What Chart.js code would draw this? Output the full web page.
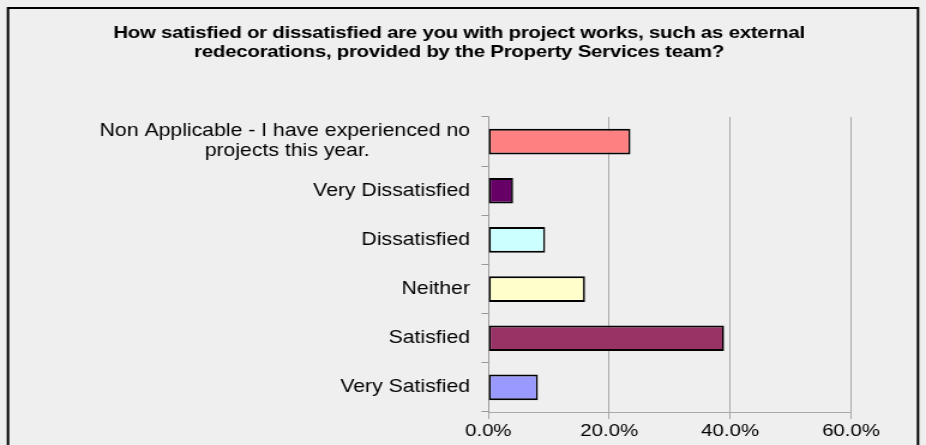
<!DOCTYPE html>
<html><head><meta charset="utf-8">
<style>html,body{margin:0;padding:0;background:#efefef;overflow:hidden;}canvas{display:block;}</style>
<script src="https://cdn.jsdelivr.net/npm/chart.js@4.4.1/dist/chart.umd.min.js"></script>
</head><body>
<canvas id="c" width="772" height="445" style="width:926px;height:445px"></canvas>
<script>
const titleLines = ['How satisfied or dissatisfied are you with project works, such as external',
                    'redecorations, provided by the Property Services team?'];
const categories = [['Non Applicable - I have experienced no', 'projects this year.'],
                    'Very Dissatisfied', 'Dissatisfied', 'Neither', 'Satisfied', 'Very Satisfied'];
const values = [23.5, 4.1, 9.4, 16.0, 39.0, 8.2];
const barColors = ['#FF8080', '#660066', '#CCFFFF', '#FFFFCC', '#993366', '#9999FF'];
const xTicks = [0, 20, 40, 60];

// the reference is stretched horizontally by ~1.2: draw at 772 px wide, shown at 926 px
const SX = 926 / 772;
const FONT = '"Liberation Sans", Arial, sans-serif';
const LABEL_SIZE = 17.7;
const TITLE_SPACING = '-0.2px';

// centre the lines of a multi-line category label by padding shorter lines
const mctx = document.createElement('canvas').getContext('2d');
mctx.font = LABEL_SIZE + 'px ' + FONT;
function centreLines(lbl) {
  if (!Array.isArray(lbl)) return lbl;
  const ws = lbl.map(s => mctx.measureText(s).width);
  const maxW = Math.max(...ws);
  const sp = mctx.measureText(' ').width;
  return lbl.map((s, i) => s + ' '.repeat(Math.round((maxW - ws[i]) / 2 / sp)));
}

const framePlugin = {
  id: 'frame',
  beforeDraw(chart) {
    const ctx = chart.ctx;
    ctx.save();
    ctx.fillStyle = '#efefef';
    ctx.fillRect(0, 0, chart.width, chart.height);
    ctx.strokeStyle = '#000';
    ctx.lineWidth = 2;
    ctx.strokeRect(8 / SX, 8, 910 / SX, 500);
    ctx.restore();
  }
};

const chart = new Chart(document.getElementById('c'), {
  type: 'bar',
  data: {
    labels: categories,
    datasets: [{
      data: values,
      backgroundColor: barColors,
      borderColor: '#000',
      borderWidth: { top: 2, bottom: 2, left: 2 / SX, right: 2 / SX },
      borderSkipped: false,
      categoryPercentage: 1,
      barPercentage: 0.523
    }]
  },
  options: {
    indexAxis: 'y',
    responsive: false,
    animation: false,
    events: [],
    layout: { padding: { left: 55.9, right: 62.5, top: 0, bottom: 0 } },
    plugins: {
      legend: { display: false },
      tooltip: { enabled: false },
      title: {
        display: true,
        text: titleLines,
        color: '#000',
        font: { family: FONT, size: 17, weight: 'bold', lineHeight: 1.135 },
        padding: { top: 23.5, bottom: 54.9 }
      }
    },
    scales: {
      x: {
        min: 0, max: 60,
        afterBuildTicks(s) { s.ticks = xTicks.map(v => ({ value: v })); },
        afterFit(s) { s.height = 33; },
        grid: { color: '#999', lineWidth: 1 / SX, drawOnChartArea: true, drawTicks: true, tickLength: 7, tickColor: '#999' },
        border: { display: true, color: '#999', width: 1 / SX },
        ticks: {
          color: '#000', padding: 3, maxRotation: 0,
          font: { family: FONT, size: 17, lineHeight: 1.15 },
          callback: v => Number(v).toFixed(1) + '%'
        }
      },
      y: {
        afterFit(s) { s.width = 351.2; },
        grid: { color: '#999', lineWidth: 1, drawOnChartArea: false, drawTicks: true, tickLength: 5.8, tickColor: '#999' },
        border: { display: true, color: '#999', width: 1 / SX },
        ticks: {
          color: '#000', padding: 9.5,
          font: { family: FONT, size: LABEL_SIZE, lineHeight: 1.13 },
          callback(v, i) { return centreLines(categories[i]); }
        }
      }
    }
  },
  plugins: [framePlugin]
});

const tb = chart.titleBlock;
const origDraw = tb.draw.bind(tb);
tb.draw = function () {
  const ctx = chart.ctx;
  const prev = ctx.letterSpacing;
  ctx.letterSpacing = TITLE_SPACING;
  origDraw();
  ctx.letterSpacing = prev;
};
chart.draw();
</script>
</body></html>
